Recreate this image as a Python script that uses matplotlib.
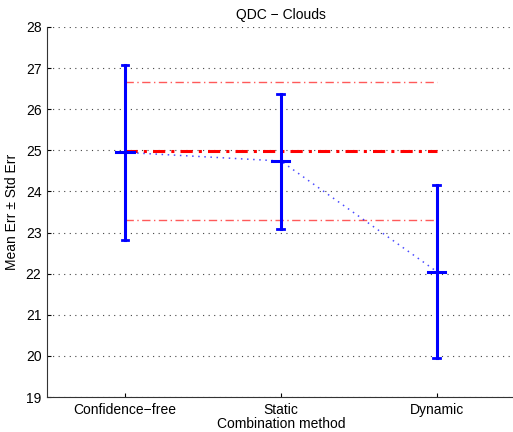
import matplotlib

matplotlib.use("Agg")
import matplotlib.pyplot as plt

methods = ["Confidence\u2212free", "Static", "Dynamic"]
mean_err = [24.95, 24.74, 22.05]
upper = [27.08, 26.38, 24.16]
lower = [22.82, 23.09, 19.95]
ref_mean = 24.98
ref_upper = 26.66
ref_lower = 23.31
yticks = [19, 20, 21, 22, 23, 24, 25, 26, 27, 28]

plt.rcParams["font.family"] = ["Liberation Sans", "DejaVu Sans"]
plt.rcParams["font.size"] = 10

fig = plt.figure(figsize=(5.13, 4.32), dpi=100)
ax = fig.add_axes([0.0916, 0.081, 0.912, 0.8565])

x = list(range(1, len(methods) + 1))

# reference band (dash-dot red)
ax.plot([x[0], x[-1]], [ref_mean, ref_mean], color="red", linestyle=(0, (4, 2, 1, 2)),
        linewidth=2.2, zorder=2)
for v in (ref_upper, ref_lower):
    ax.plot([x[0], x[-1]], [v, v], color="#ff5a5a", linestyle=(0, (6, 2.5, 1, 2.5)),
            linewidth=1.0, zorder=2)

# mean connector
ax.plot(x, mean_err, color="blue", linestyle=(0, (1, 3)), linewidth=1.1, alpha=0.7, zorder=3)

# error bars
for xi, m, lo, hi in zip(x, mean_err, lower, upper):
    ax.plot([xi, xi], [lo, hi], color="blue", linewidth=2.2, zorder=4)
    ax.plot([xi - 0.022, xi + 0.022], [hi, hi], color="blue", linewidth=2.0, zorder=4)
    ax.plot([xi - 0.022, xi + 0.022], [lo, lo], color="blue", linewidth=2.0, zorder=4)
    ax.plot([xi - 0.055, xi + 0.055], [m, m], color="blue", linewidth=2.2, zorder=4)

ax.set_xlim(0.5, 3.5)
ax.set_ylim(19, 28)
ax.set_xticks(x)
ax.set_xticklabels(methods)
ax.set_yticks(yticks)
ax.yaxis.grid(True, linestyle=(0, (1, 4)), color="#444444", linewidth=0.8)
ax.set_axisbelow(True)
ax.tick_params(direction="in", length=3, width=0.8, pad=4)
ax.spines["top"].set_visible(False)
ax.spines["right"].set_visible(False)
ax.spines["left"].set_color("#333333")
ax.spines["bottom"].set_color("#333333")
ax.set_title("QDC \u2212 Clouds", fontsize=10, pad=6)
ax.set_xlabel("Combination method", labelpad=0)
ax.set_ylabel("Mean Err \u00b1 Std Err", labelpad=5)

fig.savefig("out.png", dpi=100)
